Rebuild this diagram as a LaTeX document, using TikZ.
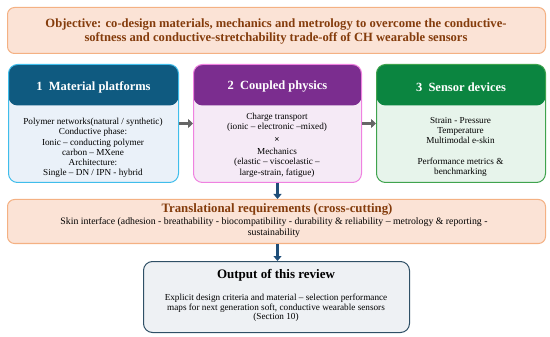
\documentclass[tikz,border=0pt]{standalone}
\usepackage{fontspec}
\setmainfont{Liberation Serif}
\usetikzlibrary{arrows.meta}
\definecolor{objfill}{HTML}{FBE3D6}
\definecolor{objdraw}{HTML}{F4B183}
\definecolor{objtext}{HTML}{843C0C}
\definecolor{hOne}{HTML}{0F5A80}
\definecolor{bOne}{HTML}{EAF1F9}
\definecolor{dOne}{HTML}{40BDEB}
\definecolor{hTwo}{HTML}{7B2D8F}
\definecolor{bTwo}{HTML}{F5EAF6}
\definecolor{dTwo}{HTML}{EF82E0}
\definecolor{hThree}{HTML}{0B8540}
\definecolor{bThree}{HTML}{E7F4EB}
\definecolor{dThree}{HTML}{3FA34D}
\definecolor{outfill}{HTML}{EEF1F4}
\definecolor{outdraw}{HTML}{2F5066}
\definecolor{arrblue}{HTML}{1F4E79}
\definecolor{arrgray}{HTML}{666666}
\tikzset{
  banner/.style={draw=objdraw, fill=objfill, line width=1pt, rounded corners=7pt, inner sep=0pt, anchor=north west},
  panel/.style n args={3}{draw=#3, fill=#2, line width=1pt, rounded corners=9pt, inner sep=0pt,
    anchor=north west, minimum width=170pt, minimum height=118pt,
    path picture={\fill[#1] (path picture bounding box.north west) rectangle ([yshift=-41pt]path picture bounding box.north east);}},
  hdrtext/.style={text=white, font=\fontsize{12.5}{14}\selectfont\bfseries},
  bodytext/.style={align=center, font=\fontsize{9.2}{10.2}\selectfont, inner sep=0pt},
  grayarrow/.style={draw=arrgray, line width=3pt, -{Triangle[length=5pt,width=9pt]}},
  bluearrow/.style={draw=arrblue, line width=2.6pt, -{Triangle[length=5pt,width=8pt]}},
}
\begin{document}
\begin{tikzpicture}[x=1pt,y=-1pt]
\useasboundingbox (0,0) rectangle (550,337);
% objective
\node[banner, minimum width=538pt, minimum height=46pt] (obj) at (7,7) {};
\node[align=center, text=objtext, font=\fontsize{12.6}{14}\selectfont\bfseries, inner sep=0pt] (objt) at (276,31)
  {Objective: co-design materials, mechanics and metrology to overcome the conductive-\\softness and conductive-stretchability trade-off of CH wearable sensors};
% panels
\node[panel={hOne}{bOne}{dOne}] (b1) at (8,64) {};
\node[panel={hTwo}{bTwo}{dTwo}, minimum width=168pt] (b2) at (193,64) {};
\node[panel={hThree}{bThree}{dThree}, minimum width=169pt] (b3) at (376,64) {};
\node[hdrtext] (h1) at ([yshift=-23pt]b1.north) {1\enspace Material platforms};
\node[hdrtext] (h2) at ([yshift=-23pt]b2.north) {2\enspace Coupled physics};
\node[hdrtext] (h3) at ([yshift=-23pt]b3.north) {3\enspace Sensor devices};
\node[bodytext] (c1) at (93,148) {Polymer networks(natural / synthetic)\\Conductive phase:\\Ionic -- conducting polymer\\carbon -- MXene\\Architecture:\\Single -- DN / IPN - hybrid};
\node[bodytext] (c2) at (277,145) {Charge transport\\(ionic -- electronic --mixed)\\[2.5pt]\textbf{×}\\[2.5pt]Mechanics\\(elastic -- viscoelastic --\\large-strain, fatigue)};
\node[bodytext] (c3) at (460.5,147) {Strain - Pressure\\Temperature\\Multimodal e-skin\\[10.2pt]Performance metrics \&\\benchmarking};
% translational
\node[banner, minimum width=538pt, minimum height=44pt] (tr) at (7,199) {};
\node[text=objtext, font=\fontsize{12.8}{14}\selectfont\bfseries, inner sep=0pt, anchor=base] (trt) at (277,213) {Translational requirements (cross-cutting)};
\node[align=center, font=\fontsize{9.8}{11}\selectfont, inner sep=0pt] (trb) at (274,227.5) {Skin interface (adhesion - breathability - biocompatibility - durability \& reliability -- metrology \& reporting -\\sustainability};
% output
\node[draw=outdraw, fill=outfill, line width=1pt, rounded corners=9pt, inner sep=0pt, anchor=north west,
  minimum width=266pt, minimum height=71pt] (out) at (143,261) {};
\node[font=\fontsize{13}{14}\selectfont\bfseries, inner sep=0pt, anchor=base] (outt) at (276,278) {Output of this review};
\node[align=center, font=\fontsize{9.2}{9.3}\selectfont, inner sep=0pt] (outb) at (276,308) {Explicit design criteria and material -- selection performance\\maps for next generation soft, conductive wearable sensors\\(Section 10)};
% arrows
\draw[grayarrow] (b1.east) -- (b2.west);
\draw[grayarrow] (b2.east) -- (b3.west |- b2.east);
\draw[bluearrow] (b2.south) -- (b2.south |- tr.north);
\draw[bluearrow] (b2.south |- tr.south) -- (b2.south |- out.north);
\end{tikzpicture}
\end{document}
